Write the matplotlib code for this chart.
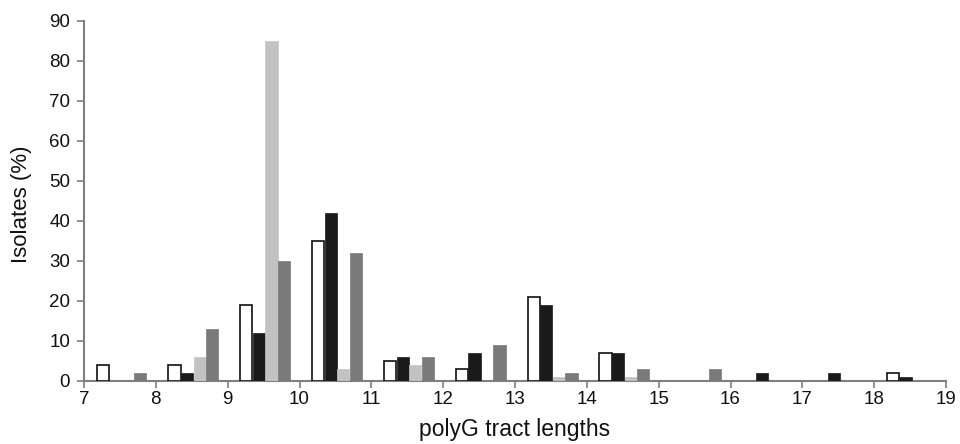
import matplotlib
matplotlib.use("Agg")
import matplotlib.pyplot as plt
import numpy as np

plt.rcParams['font.family'] = ['Liberation Sans', 'DejaVu Sans']

lengths = [7, 8, 9, 10, 11, 12, 13, 14, 15, 16, 17, 18]
series_white = [4, 4, 19, 35, 5, 3, 21, 7, 0, 0, 0, 2]
series_black = [0, 2, 12, 42, 6, 7, 19, 7, 0, 2, 2, 1]
series_light = [0, 6, 85, 3, 4, 0, 1, 1, 0, 0, 0, 0]
series_dark = [2, 13, 30, 32, 6, 9, 2, 3, 3, 0, 0, 0]

x_ticks = list(range(7, 20))
y_ticks = list(range(0, 100, 10))

fig = plt.figure(figsize=(9.6, 4.44), dpi=100)
ax = fig.add_axes([0.0875, 0.142, 0.898, 0.811])

w = 0.175
offsets = [0.26, 0.435, 0.61, 0.785]
x = np.array(lengths, dtype=float)
styles = [
    (series_white, dict(facecolor='white', edgecolor='#111111', linewidth=1.2)),
    (series_black, dict(facecolor='#1a1a1a', edgecolor='#1a1a1a', linewidth=0.5)),
    (series_light, dict(facecolor='#c2c2c2', edgecolor='#c2c2c2', linewidth=0.5)),
    (series_dark, dict(facecolor='#7a7a7a', edgecolor='#7a7a7a', linewidth=0.5)),
]
for (vals, st), off in zip(styles, offsets):
    v = np.array(vals, dtype=float)
    mask = v > 0
    ax.bar(x[mask] + off, v[mask], width=w * 0.97, **st, zorder=3)

ax.set_xlim(7, 19)
ax.set_ylim(0, 90)
ax.set_xticks(x_ticks)
ax.set_yticks(y_ticks)
for s in ['top', 'right']:
    ax.spines[s].set_visible(False)
for s in ['left', 'bottom']:
    ax.spines[s].set_color('#7f7f7f')
    ax.spines[s].set_linewidth(1.5)
ax.tick_params(axis='both', colors='#7f7f7f', labelcolor='#111111', labelsize=13.5,
               length=5, width=1.2, direction='out')
ax.tick_params(axis='y', pad=5)
ax.tick_params(axis='x', pad=2)
ax.set_xlabel('polyG tract lengths', fontsize=16.5, color='#111111')
ax.set_ylabel('Isolates (%)', fontsize=16, color='#111111')
ax.xaxis.set_label_coords(0.5, -0.103)
ax.yaxis.set_label_coords(-0.060, 0.49)

fig.savefig('out.png', dpi=100)
